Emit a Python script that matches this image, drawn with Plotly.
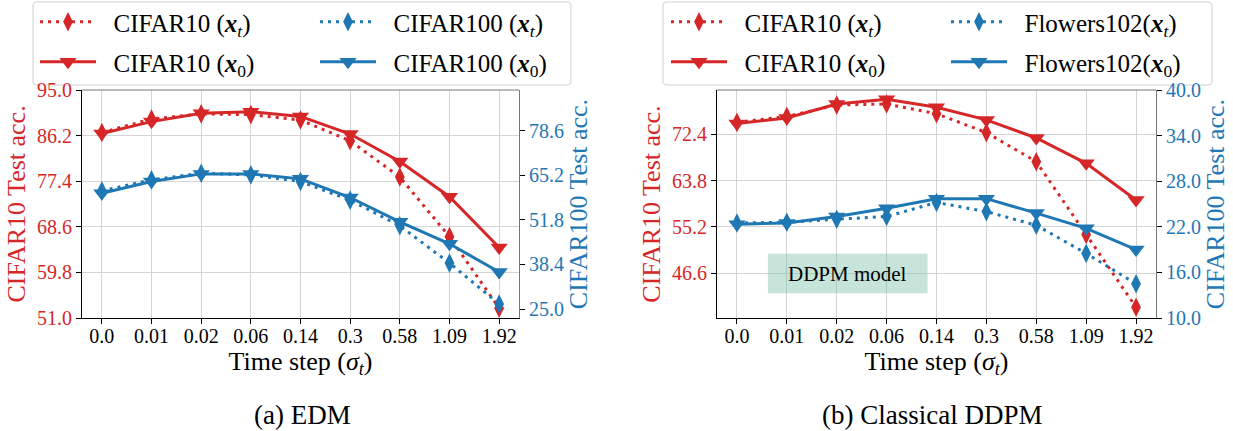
import plotly.graph_objects as go

# ---------------- data ----------------
steps = ["0.0", "0.01", "0.02", "0.06", "0.14", "0.3", "0.58", "1.09", "1.92"]

edm_cifar10_xt = [86.8, 89.4, 90.4, 90.25, 89.2, 85.2, 78.2, 66.7, 52.9]
edm_cifar10_x0 = [86.6, 88.9, 90.5, 90.8, 89.9, 86.5, 81.2, 74.4, 64.6]
edm_cifar100_xt = [60.5, 63.8, 65.8, 65.3, 63.3, 57.7, 50.0, 38.8, 26.5]
edm_cifar100_x0 = [59.8, 63.3, 65.6, 65.6, 64.1, 58.5, 51.2, 44.6, 36.1]

ddpm_cifar10_xt = [74.6, 75.7, 77.8, 78.0, 76.2, 72.7, 67.3, 53.8, 40.3]
ddpm_cifar10_x0 = [74.4, 75.4, 78.0, 78.9, 77.4, 75.05, 71.7, 67.0, 60.2]
ddpm_flowers_xt = [22.5, 22.6, 23.0, 23.35, 25.2, 24.0, 22.2, 18.5, 14.5]
ddpm_flowers_x0 = [22.35, 22.5, 23.35, 24.45, 25.7, 25.7, 23.8, 21.8, 19.0]

edm_left_ticks = [51.0, 59.8, 68.6, 77.4, 86.2, 95.0]
edm_right_ticks = [25.0, 38.4, 51.8, 65.2, 78.6]
ddpm_left_ticks = [46.6, 55.2, 63.8, 72.4]
ddpm_right_ticks = [10.0, 16.0, 22.0, 28.0, 34.0, 40.0]

# ---------------- style ----------------
W, H = 1233, 431
RED = "#d62728"
BLUE = "#1f77b4"
FONT = "Liberation Serif"
GRID = "#d4d4d4"
DOT = "3px,5px"


def px_x(p):
    return p / W


def px_y(p):
    return 1 - p / H


XT = "<b><i>x</i></b><sub><i>t</i></sub>"
X0 = "<b><i>x</i></b><sub>0</sub>"
PAD = "\u00a0\u00a0"

fig = go.Figure()


def add(x, y, color, dotted, name, xa, ya, leg):
    fig.add_trace(go.Scatter(
        x=x, y=y, name=PAD + name, xaxis=xa, yaxis=ya, legend=leg, showlegend=True,
        mode="lines+markers",
        line=dict(color=color, width=3, dash=DOT if dotted else "solid"),
        marker=dict(symbol="diamond-tall" if dotted else "triangle-down",
                    size=14 if dotted else 15, color=color),
    ))


add(steps, edm_cifar10_xt, RED, True, f"CIFAR10 ({XT})", "x", "y", "legend")
add(steps, edm_cifar10_x0, RED, False, f"CIFAR10 ({X0})", "x", "y", "legend2")
add(steps, edm_cifar100_xt, BLUE, True, f"CIFAR100 ({XT})", "x", "y2", "legend3")
add(steps, edm_cifar100_x0, BLUE, False, f"CIFAR100 ({X0})", "x", "y2", "legend4")

add(steps, ddpm_cifar10_xt, RED, True, f"CIFAR10 ({XT})", "x2", "y3", "legend5")
add(steps, ddpm_cifar10_x0, RED, False, f"CIFAR10 ({X0})", "x2", "y3", "legend6")
add(steps, ddpm_flowers_xt, BLUE, True, f"Flowers102({XT})", "x2", "y4", "legend7")
add(steps, ddpm_flowers_x0, BLUE, False, f"Flowers102({X0})", "x2", "y4", "legend8")

ydom = [px_y(318), px_y(90)]
xdom1 = [px_x(82), px_x(519)]
xdom2 = [px_x(717), px_x(1156)]

xcommon = dict(
    type="category", range=[-0.4, 8.4], showgrid=True, gridcolor=GRID, gridwidth=1,
    showline=True, linecolor="black", linewidth=1, ticks="outside", ticklen=5,
    tickcolor="black", tickfont=dict(family=FONT, size=20, color="black"),
    zeroline=False, automargin=False, ticklabelstandoff=-5,
)
xtitle = dict(text="Time step (<i>σ</i><sub><i>t</i></sub>)",
              font=dict(family=FONT, size=26, color="black"), standoff=4)


def yleft(rng, ticks, title):
    return dict(
        domain=ydom, range=rng, tickvals=ticks, ticktext=[f"{t:.1f}" for t in ticks],
        showgrid=True, gridcolor=GRID, gridwidth=1, zeroline=False, automargin=False,
        showline=True, linecolor="black", linewidth=1, ticks="outside", ticklen=5,
        tickcolor="black", tickfont=dict(family=FONT, size=20, color=RED),
        title=dict(text=title, font=dict(family=FONT, size=26, color=RED), standoff=3),
    )


def yright(rng, ticks, title, over, anchor):
    return dict(
        overlaying=over, side="right", anchor=anchor, range=rng, tickvals=ticks,
        ticktext=[f"{t:.1f}" for t in ticks], showgrid=False, zeroline=False,
        automargin=False,
        showline=True, linecolor="#777777", linewidth=1, ticks="outside", ticklen=5,
        tickcolor="black", tickfont=dict(family=FONT, size=20, color=BLUE),
        title=dict(text=title, font=dict(family=FONT, size=26, color=BLUE), standoff=3),
    )


layout = dict(
    width=W, height=H, autosize=False, showlegend=True,
    margin=dict(l=0, r=0, t=0, b=0, autoexpand=False),
    paper_bgcolor="white", plot_bgcolor="white",
    font=dict(family=FONT, size=20, color="black"),
    xaxis=dict(domain=xdom1, anchor="y", title=xtitle, **xcommon),
    xaxis2=dict(domain=xdom2, anchor="y3", title=xtitle, **xcommon),
    yaxis=yleft([51, 95], edm_left_ticks, "CIFAR10 Test acc."),
    yaxis2=yright([22.3, 90.8], edm_right_ticks, "CIFAR100 Test acc.", "y", "x"),
    yaxis3=dict(anchor="x2", **yleft([38.3, 80.6], ddpm_left_ticks, "CIFAR10 Test acc.")),
    yaxis4=yright([10, 40], ddpm_right_ticks, "CIFAR100 Test acc.", "y3", "x2"),
)
layout["yaxis"]["anchor"] = "x"

# legends: one entry each, arranged in a 2x2 grid per panel (left edge of each entry)
leg_x = [35, 35, 315, 315, 666, 666, 946, 946]
leg_row_y = [22, 62, 22, 62, 22, 62, 22, 62]
ITEMW = 56
for i in range(8):
    key = "legend" if i == 0 else f"legend{i + 1}"
    layout[key] = dict(
        x=px_x(leg_x[i]), xanchor="left",
        y=px_y(leg_row_y[i]), yanchor="middle",
        bgcolor="rgba(0,0,0,0)", borderwidth=0, itemwidth=ITEMW,
        font=dict(family=FONT, size=25, color="black"),
    )


def rounded_box(x0, x1, y0, y1, r=4):
    """Rounded rectangle path in paper coordinates from pixel bounds (y0 top, y1 bottom)."""
    X = lambda p: f"{px_x(p):.6f}"
    Y = lambda p: f"{px_y(p):.6f}"
    return (
        f"M {X(x0 + r)},{Y(y0)} L {X(x1 - r)},{Y(y0)} "
        f"Q {X(x1)},{Y(y0)} {X(x1)},{Y(y0 + r)} L {X(x1)},{Y(y1 - r)} "
        f"Q {X(x1)},{Y(y1)} {X(x1 - r)},{Y(y1)} L {X(x0 + r)},{Y(y1)} "
        f"Q {X(x0)},{Y(y1)} {X(x0)},{Y(y1 - r)} L {X(x0)},{Y(y0 + r)} "
        f"Q {X(x0)},{Y(y0)} {X(x0 + r)},{Y(y0)} Z"
    )


shapes = [
    # legend frames
    dict(type="path", xref="paper", yref="paper", path=rounded_box(33, 571, 2, 85),
         line=dict(color="#d0d0d0", width=1), fillcolor="rgba(255,255,255,0.8)", layer="below"),
    dict(type="path", xref="paper", yref="paper", path=rounded_box(663, 1212, 2, 85),
         line=dict(color="#d0d0d0", width=1), fillcolor="rgba(255,255,255,0.8)", layer="below"),
    # top spines
    dict(type="line", xref="paper", yref="paper", x0=xdom1[0], x1=xdom1[1], y0=ydom[1], y1=ydom[1],
         line=dict(color="#777777", width=1)),
    dict(type="line", xref="paper", yref="paper", x0=xdom2[0], x1=xdom2[1], y0=ydom[1], y1=ydom[1],
         line=dict(color="#777777", width=1)),
    # DDPM label box
    dict(type="rect", xref="x2", yref="y3", x0=0.62, x1=3.82, y0=42.9, y1=50.2,
         line=dict(width=0), fillcolor="rgba(120,190,165,0.42)", layer="above"),
]
layout["shapes"] = shapes

layout["annotations"] = [
    dict(text="DDPM model", xref="x2", yref="y3", x=2.22, y=46.55, showarrow=False,
         font=dict(family=FONT, size=21, color="black")),
    dict(text="(a) EDM", xref="paper", yref="paper", x=px_x(302), y=px_y(415),
         xanchor="center", yanchor="middle",
         showarrow=False, font=dict(family=FONT, size=27, color="black")),
    dict(text="(b) Classical DDPM", xref="paper", yref="paper", x=px_x(932), y=px_y(415),
         xanchor="center", yanchor="middle",
         showarrow=False, font=dict(family=FONT, size=27, color="black")),
]

fig.update_layout(**layout)
fig.write_html(
    "out.html",
    config={"displayModeBar": False},
    post_script="document.body.style.margin='0';document.body.style.overflow='hidden';",
)
